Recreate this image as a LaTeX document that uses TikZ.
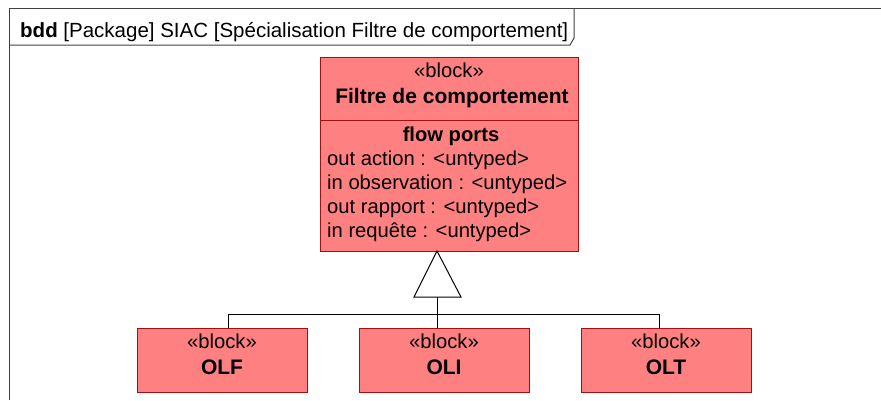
\documentclass[tikz,border=0pt]{standalone}
\usepackage{fontspec}
\setmainfont{Liberation Sans}
\definecolor{blockfill}{HTML}{FF8080}
\definecolor{blockdraw}{HTML}{A01010}
\definecolor{framecol}{HTML}{404040}
\begin{document}
\begin{tikzpicture}[x=1pt,y=-1pt,
  frameline/.style={draw=framecol, line width=1pt},
  blockbox/.style={draw=blockdraw, fill=blockfill, line width=1pt, inner sep=0pt},
  txt/.style={font=\fontsize{20.2}{24}\selectfont, inner sep=0pt},
  conn/.style={draw=black, line width=1pt}]
\useasboundingbox (0,0) rectangle (881,400);
% frame
\draw[frameline] (9,400) -- (9,8) -- (881,8);
\draw[frameline] (9,45) -- (570,45) -- (574,38) -- (574,8);
\node[txt, anchor=base west, font=\fontsize{20.5}{24}\selectfont] (title) at (20,37) {\textbf{bdd} [Package] SIAC [Spécialisation Filtre de comportement]};
% main block
\node[blockbox, anchor=north west, minimum width=258pt, minimum height=194pt] (main) at (320,57) {};
\draw[draw=blockdraw, line width=1pt] (main.west |- 0,120) -- (main.east |- 0,120);
\node[txt, anchor=base] (mst) at (449,77) {«block»};
\node[txt, anchor=base, font=\fontsize{21}{24}\selectfont] (mname) at (452,103) {\textbf{Filtre de comportement}};
\node[txt, anchor=base] (fp) at (451,141) {\textbf{flow ports}};
\node[txt, anchor=base west] (p1) at (327,165) {out action : <untyped>};
\node[txt, anchor=base west] (p2) at (327,189) {in observation : <untyped>};
\node[txt, anchor=base west] (p3) at (327,213) {out rapport : <untyped>};
\node[txt, anchor=base west] (p4) at (327,237) {in requête : <untyped>};
% sub blocks
\node[blockbox, anchor=north west, minimum width=170pt, minimum height=64pt] (olf) at (137,328) {};
\node[blockbox, anchor=north west, minimum width=170pt, minimum height=64pt] (oli) at (359,328) {};
\node[blockbox, anchor=north west, minimum width=170pt, minimum height=64pt] (olt) at (581,328) {};
\node[txt, anchor=base] (olfs) at (222,348) {«block»};
\node[txt, anchor=base, font=\fontsize{21}{24}\selectfont] (olfn) at (222,374) {\textbf{OLF}};
\node[txt, anchor=base] (olis) at (444,348) {«block»};
\node[txt, anchor=base, font=\fontsize{21}{24}\selectfont] (olin) at (444,374) {\textbf{OLI}};
\node[txt, anchor=base] (olts) at (666,348) {«block»};
\node[txt, anchor=base, font=\fontsize{21}{24}\selectfont] (oltn) at (666,374) {\textbf{OLT}};
% generalization
\coordinate (apex) at (437,251);
\coordinate (tbase) at (437,297);
\coordinate (bus) at (437,314);
\draw[conn, fill=white, line join=miter] (apex) -- (461,297) -- (414,297) -- cycle;
\draw[conn] (tbase) -- (tbase |- oli.north);
\draw[conn] (olf.north -| 228,0) -- (228,314) -- (659,314) -- (olt.north -| 659,0);
\end{tikzpicture}
\end{document}
